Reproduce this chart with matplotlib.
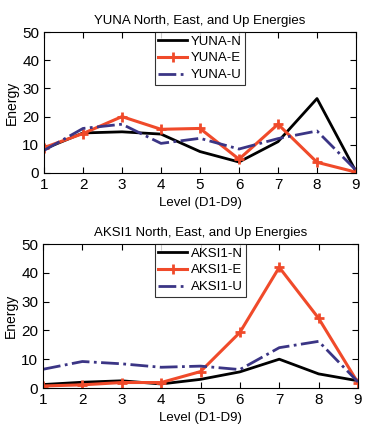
import matplotlib.pyplot as plt
from matplotlib import font_manager

levels = [1, 2, 3, 4, 5, 6, 7, 8, 9]

yuna_n = [8.5, 14.2, 14.6, 13.8, 7.6, 3.9, 11.1, 26.4, 0.5]
yuna_e = [9.0, 14.0, 20.0, 15.5, 15.8, 4.9, 17.3, 3.8, 0.3]
yuna_u = [8.0, 15.8, 17.3, 10.5, 12.3, 8.5, 12.2, 14.9, 1.0]

aksi_n = [1.2, 2.0, 2.5, 1.4, 3.0, 5.6, 10.0, 4.9, 2.5]
aksi_e = [0.7, 1.1, 1.9, 1.9, 5.7, 19.3, 41.9, 24.2, 1.8]
aksi_u = [6.5, 9.2, 8.4, 7.2, 7.6, 6.4, 14.0, 16.2, 2.1]

names = {f.name for f in font_manager.fontManager.ttflist}
fam = "Liberation Sans Narrow" if "Liberation Sans Narrow" in names else "Liberation Sans"
plt.rcParams["font.family"] = [fam, "DejaVu Sans"]

RED = "#f04a2a"
BLUE = "#3b3585"

fig = plt.figure(figsize=(3.74, 4.33), dpi=100)
W, H = 374, 433
boxes = [(44, 32, 356, 173), (43, 244, 358, 388)]
panels = [
    ("YUNA", yuna_n, yuna_e, yuna_u),
    ("AKSI1", aksi_n, aksi_e, aksi_u),
]
labels = [("YUNA-N", "YUNA-E", "YUNA-U"), ("AKSI1-N", "AKSI1-E", "AKSI1-U")]
titles = ["YUNA North, East, and Up Energies", "AKSI1 North, East, and Up Energies"]

for (x0, y0, x1, y1), (name, n, e, u), lab, ttl in zip(boxes, panels, labels, titles):
    ax = fig.add_axes([x0 / W, 1 - y1 / H, (x1 - x0) / W, (y1 - y0) / H])
    ax.plot(levels, n, color="black", lw=2, label=lab[0])
    ax.plot(levels, e, color=RED, lw=2.2, marker="+", ms=7, mew=2, label=lab[1])
    ax.plot(levels, u, color=BLUE, lw=2, ls="-.", label=lab[2])
    ax.set_xlim(1, 9)
    ax.set_ylim(0, 50)
    ax.set_xticks(levels)
    ax.set_yticks([0, 10, 20, 30, 40, 50])
    ax.tick_params(direction="in", top=True, right=True, length=4, labelsize=11)
    ax.set_title(ttl, fontsize=9.5, pad=6)
    ax.set_xlabel("Level (D1-D9)", fontsize=9.5, labelpad=4)
    ax.set_ylabel("Energy", fontsize=10, labelpad=2)
    leg = ax.legend(loc="upper center", bbox_to_anchor=(0.5, 1.0), fontsize=9.5,
                    frameon=True, fancybox=False, edgecolor="black",
                    handlelength=2.2, borderpad=0.25, labelspacing=0.35,
                    handletextpad=0.3, borderaxespad=0)
    leg.get_frame().set_linewidth(0.8)

fig.savefig("out.png", dpi=100)
